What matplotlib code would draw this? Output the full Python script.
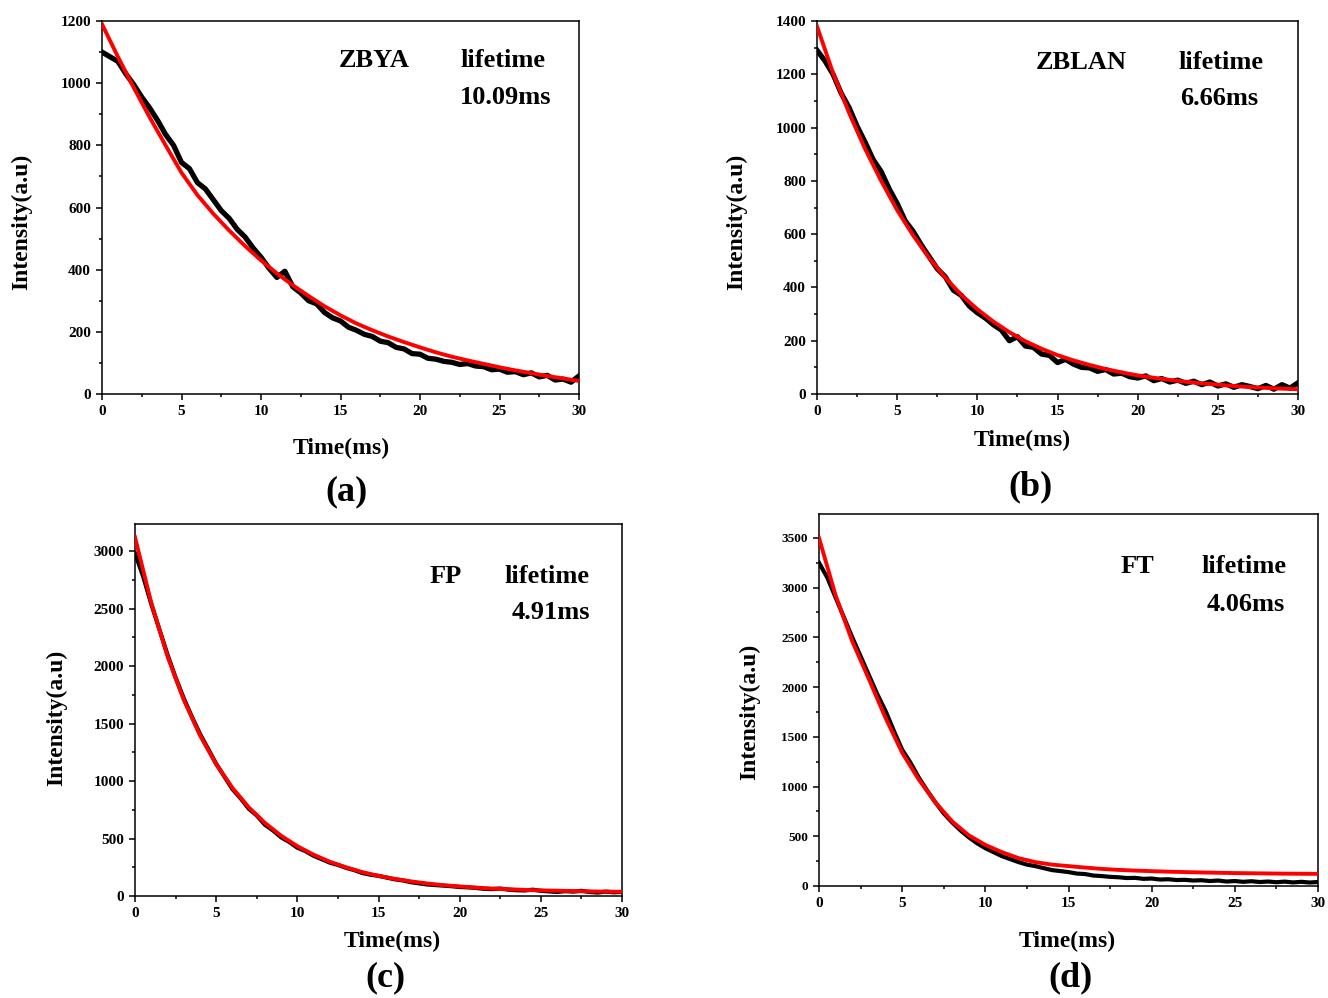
import numpy as np
import matplotlib
matplotlib.use("Agg")
import matplotlib.pyplot as plt
from matplotlib.ticker import MultipleLocator

plt.rcParams['font.family'] = ['Liberation Serif', 'DejaVu Serif']
plt.rcParams['font.weight'] = 'bold'

# time grids (ms)
t_data = np.linspace(0, 30, 61)
t_fit = np.linspace(0, 30, 31)

# (a) ZBYA
zbya_data = [1100, 1085, 1070, 1030, 995, 955, 920, 880, 835, 800,
             745, 725, 680, 660, 625, 590, 565, 530, 505, 470,
             440, 405, 375, 395, 345, 325, 300, 290, 262, 245,
             235, 215, 205, 192, 185, 170, 165, 150, 145, 130,
             128, 115, 112, 105, 102, 95, 98, 90, 88, 78,
             80, 70, 72, 62, 68, 55, 60, 45, 48, 38, 58]
zbya_fit = [1190, 1085, 985, 890, 800, 712, 640, 580, 526, 476,
            430, 388, 350, 315, 282, 253, 227, 205, 185, 167,
            150, 134, 120, 108, 97, 86, 76, 67, 58, 50, 42]

# (b) ZBLAN
zblan_data = [1290, 1250, 1200, 1130, 1075, 1005, 945, 880, 835, 770,
              715, 650, 610, 560, 515, 470, 440, 390, 370, 330,
              305, 285, 260, 240, 200, 215, 180, 175, 150, 145,
              118, 130, 112, 100, 98, 85, 92, 75, 78, 65,
              60, 68, 50, 58, 45, 52, 40, 48, 35, 45,
              30, 38, 25, 35, 28, 20, 32, 18, 35, 22, 42]
zblan_fit = [1380, 1205, 1055, 920, 800, 690, 595, 510, 437, 372,
             318, 272, 232, 198, 170, 146, 126, 109, 94, 81,
             70, 61, 53, 46, 40, 35, 30, 26, 23, 20, 18]

# (c) FP
fp_data = [2980, 2780, 2540, 2320, 2100, 1900, 1720, 1560, 1410, 1280,
           1150, 1040, 930, 850, 760, 700, 620, 570, 510, 470,
           420, 390, 350, 320, 290, 270, 245, 225, 200, 185,
           175, 160, 145, 135, 120, 110, 100, 95, 90, 85,
           78, 75, 70, 62, 60, 65, 55, 50, 48, 55,
           45, 40, 35, 42, 38, 45, 35, 30, 38, 32, 35]
fp_fit = [3120, 2550, 2086, 1707, 1398, 1146, 940, 772, 636, 524,
          433, 359, 298, 249, 208, 175, 149, 127, 109, 94,
          83, 73, 65, 59, 53, 49, 46, 43, 40, 38, 37]

# (d) FT
ft_data = [3250, 3100, 2900, 2700, 2500, 2310, 2120, 1930, 1760, 1560,
           1370, 1240, 1090, 960, 840, 730, 640, 560, 490, 430,
           380, 340, 300, 270, 240, 215, 200, 180, 160, 150,
           140, 125, 120, 105, 100, 92, 88, 80, 82, 72,
           75, 65, 68, 60, 62, 55, 58, 50, 55, 45,
           50, 42, 48, 40, 45, 38, 44, 36, 42, 35, 40]
ft_fit = [3500, 2920, 2460, 2080, 1690, 1340, 1070, 840, 650, 510,
          413, 340, 280, 240, 215, 200, 185, 172, 162, 155,
          149, 144, 140, 136, 133, 130, 128, 126, 124, 123, 122]

W, H = 1328, 998


def px(x, y):
    return x / W, 1 - y / H


fig = plt.figure(figsize=(W / 100, H / 100), dpi=100)

panels = [
    # name, lifetime, data, fit, axes rect px (left, top, right, bottom), ymax,
    # major, minor, x/y tick size, black lw, text pos (axes frac),
    # ylabel px, xlabel px, letter px, letter
    ("ZBYA", "10.09ms", zbya_data, zbya_fit, (102, 21, 579, 394), 1200, 200, 100, (11, 11), 3.8,
     (0.570, 0.841, 0.847, 0.893, 0.794), (22, 222), (341, 448), (347, 492), "(a)"),
    ("ZBLAN", "6.66ms", zblan_data, zblan_fit, (817, 21, 1298, 394), 1400, 200, 100, (11, 11), 3.8,
     (0.549, 0.840, 0.836, 0.890, 0.791), (737, 222), (1022, 440), (1030, 487), "(b)"),
    ("FP", "4.91ms", fp_data, fp_fit, (135, 524, 622, 896), 3235, 500, 250, (11, 11), 3.0,
     (0.637, 0.846, 0.854, 0.858, 0.761), (57, 718), (392, 941), (385, 978), "(c)"),
    ("FT", "4.06ms", ft_data, ft_fit, (819, 514, 1318, 886), 3740, 500, 250, (11, 9.5), 3.0,
     (0.639, 0.852, 0.856, 0.858, 0.758), (750, 712), (1067, 941), (1070, 978), "(d)"),
]

for (name, life, data, fit, rect, ymax, major, minor, tsize, blw,
     tpos, ylab, xlab, letpos, letter) in panels:
    l, t, r, b = rect
    ax = fig.add_axes([l / W, 1 - b / H, (r - l) / W, (b - t) / H])
    ax.plot(t_data, data, color='black', lw=blw, zorder=2)
    ax.plot(t_fit, fit, color='#ff0000', lw=2.8, zorder=3)
    ax.set_xlim(0, 30)
    ax.set_ylim(0, ymax)
    ax.xaxis.set_major_locator(MultipleLocator(5))
    ax.xaxis.set_minor_locator(MultipleLocator(2.5))
    ax.yaxis.set_major_locator(MultipleLocator(major))
    ax.yaxis.set_minor_locator(MultipleLocator(minor))
    ax.tick_params(which='both', direction='out', width=1.1)
    ax.tick_params(axis='x', labelsize=tsize[0])
    ax.tick_params(axis='y', labelsize=tsize[1])
    ax.tick_params(which='major', length=4.5)
    ax.tick_params(which='minor', length=2.5)
    for s in ax.spines.values():
        s.set_linewidth(1.1)

    nx, lx, vx, ty, vy = tpos
    ax.text(nx, ty, name, transform=ax.transAxes, ha='center', va='center',
            fontsize=19, fontweight='bold')
    ax.text(lx, ty, "lifetime", transform=ax.transAxes, ha='center', va='center',
            fontsize=19, fontweight='bold')
    ax.text(vx, vy, life, transform=ax.transAxes, ha='center', va='center',
            fontsize=19, fontweight='bold')

    fig.text(*px(*ylab), "Intensity(a.u)", rotation=90, ha='center', va='center',
             fontsize=17, fontweight='bold')
    fig.text(*px(*xlab), "Time(ms)", ha='center', va='center',
             fontsize=17, fontweight='bold')
    fig.text(*px(*letpos), letter, ha='center', va='center',
             fontsize=26, fontweight='bold')

fig.savefig("out.png", dpi=100)
